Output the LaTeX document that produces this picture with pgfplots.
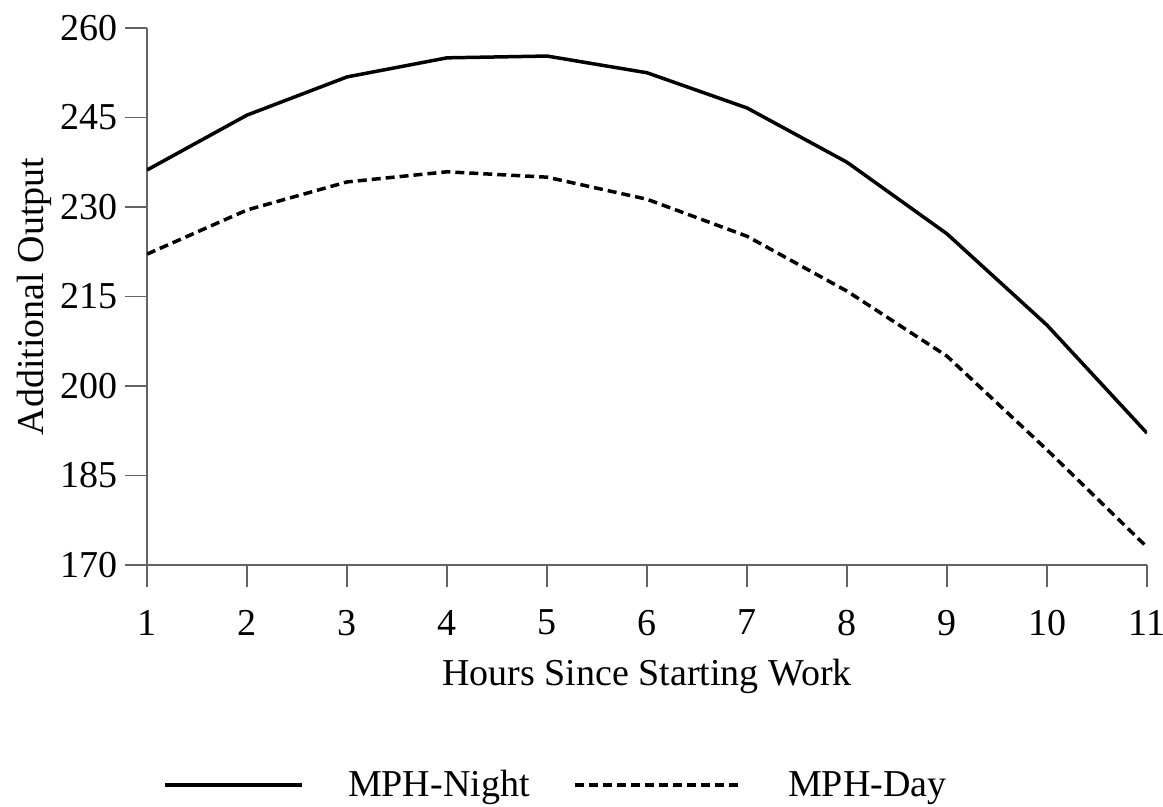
\documentclass[border=0pt]{standalone}
\usepackage{fontspec}
\setmainfont{Liberation Serif}
\usepackage{pgfplots}
\pgfplotsset{compat=1.18}
\definecolor{axgray}{RGB}{100,100,100}
\newcommand\fs{\fontsize{19}{22}\selectfont}
\pgfplotsset{
    nightleg/.style={legend image code/.code={\draw[##1] (0pt,0pt) -- (68.5pt,0pt);}},
    dayleg/.style={legend image code/.code={\draw[##1] (0pt,0pt) -- (83.5pt,0pt);}},
}
\begin{document}
\begin{tikzpicture}
\useasboundingbox (-73.5pt,-121pt) rectangle (508pt,282.5pt);
\begin{axis}[
    at={(0pt,0pt)}, anchor=south west,
    scale only axis,
    width=500pt, height=268.5pt,
    xmin=1, xmax=11, ymin=170, ymax=260,
    xtick={1,...,11},
    ytick={170,185,...,260},
    axis x line*=bottom,
    axis y line*=left,
    tick align=outside,
    major tick length=11pt,
    tick style={axgray, line width=0.7pt},
    axis line style={axgray, line width=0.7pt},
    /pgf/number format/assume math mode=true,
    ticklabel style={font=\fs},
    xticklabel style={yshift=-8pt},
    label style={font=\fs},
    xlabel={Hours Since Starting Work},
    xlabel style={yshift=-5pt},
    ylabel={Additional Output},
    ylabel style={yshift=-2pt},
    legend columns=2,
    legend style={at={(0.408,-0.41)}, anchor=center, draw=none, font=\fs,
        column sep=22pt, nodes={inner xsep=0pt}},
]
% MPH-Night
\addplot[black, line width=1.75pt, nightleg] coordinates {
    (1,236.2) (2,245.4) (3,251.8) (4,255.0) (5,255.3) (6,252.5)
    (7,246.6) (8,237.5) (9,225.5) (10,210.2) (11,192.1)
};
\addlegendentry{MPH-Night}
% MPH-Day
\addplot[black, line width=1.75pt, dash pattern=on 4.5pt off 2.5pt, dayleg] coordinates {
    (1,222.1) (2,229.5) (3,234.2) (4,235.9) (5,235.0) (6,231.3)
    (7,225.1) (8,215.9) (9,205.0) (10,189.3) (11,173.0)
};
\addlegendentry{MPH-Day}
\end{axis}
\end{tikzpicture}
\end{document}
